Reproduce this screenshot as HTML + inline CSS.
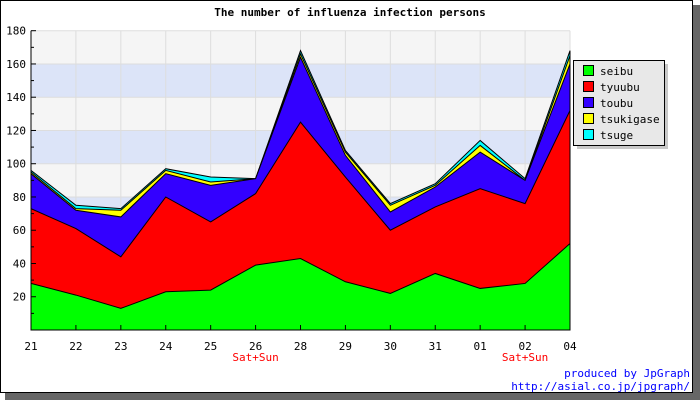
<!DOCTYPE html>
<html><head><meta charset="utf-8"><style>
body{margin:0;background:#fff}
svg text{font-family:"DejaVu Sans Mono","Liberation Mono",monospace}
</style></head><body>
<svg width="700" height="400" xmlns="http://www.w3.org/2000/svg">
<rect x="5" y="5" width="695" height="395" fill="#666"/>
<rect x="0.5" y="0.5" width="692" height="392" fill="#fff" stroke="#000"/>
<text x="350" y="16" text-anchor="middle" font-size="11" font-weight="bold">The number of influenza infection persons</text>
<g id="plot"></g>
<g>
<rect x="577" y="64" width="91" height="85" fill="#c8c8c8"/>
<rect x="573.5" y="60.5" width="91" height="85" fill="#e8e8e8" stroke="#000"/>
<g id="legend-items"></g>
</g>
<text x="690" y="377" text-anchor="end" font-size="11" fill="#00f">produced by JpGraph</text>
<text x="690" y="390" text-anchor="end" font-size="11" fill="#00f">http://asial.co.jp/jpgraph/</text>
</svg>
<script>
const categories=["21","22","23","24","25","26","28","29","30","31","01","02","04"];
const weekendLabels=["","","","","","Sat+Sun","","","","","","Sat+Sun",""];
const seriesNames=["seibu","tyuubu","toubu","tsukigase","tsuge"];
const seriesColors=["#00ff00","#ff0000","#3300ff","#ffff00","#00ffff"];
const seibu=[28,21,13,23,24,39,43,29,22,34,25,28,52];
const tyuubu=[45,40,31,57,41,43,82,63,38,40,60,48,80];
const toubu=[21,11,24,14,22,9,39,13,11,12,22,14,28];
const tsukigase=[1,1,4,2,2,0,2,2,4,1,4,0,5];
const tsuge=[1,2,1,1,3,0,2,1,1,1,3,1,3];
const yTicks=[20,40,60,80,100,120,140,160,180];
const yMax=180;
const L=31,R=570,T=30.7,B=330;
const xs=i=>L+(R-L)*i/(categories.length-1);
const ys=v=>B-(B-T)*v/yMax;
const NS="http://www.w3.org/2000/svg";
const plot=document.getElementById('plot');
function mk(tag,attrs,parent){const e=document.createElementNS(NS,tag);for(const k in attrs)e.setAttribute(k,attrs[k]);(parent||plot).appendChild(e);return e;}
// background bands
for(let v=0;v<yMax;v+=20){
 const r=mk('rect',{x:L,y:ys(v+20),width:R-L,height:ys(v)-ys(v+20),fill:(v/20)%2===0?'#f5f5f5':'#dce4f8'});
 
 
}
for(const v of yTicks){const l=mk('line',{x1:L,x2:R,y1:ys(v),y2:ys(v),stroke:'#ddd'});
 
 }
categories.forEach((c,i)=>{const l=mk('line',{x1:xs(i),x2:xs(i),y1:T,y2:B,stroke:'#ddd'});
 
 });
// stacked areas
const series=[seibu,tyuubu,toubu,tsukigase,tsuge];
let base=categories.map(()=>0);
const tops=[];
series.forEach((s,k)=>{const top=base.map((b,i)=>b+s[i]);tops.push({top,base:base.slice()});base=top;});
for(let k=series.length-1;k>=0;k--){
 const top=tops[k].top;
 let d='M'+xs(0)+','+ys(0);
 top.forEach((v,i)=>d+='L'+xs(i)+','+ys(v));
 d+='L'+xs(top.length-1)+','+ys(0)+'Z';
 const p=mk('path',{d,fill:seriesColors[k],stroke:'#000','stroke-width':1});
 
 
}
// axes
const ax=mk('line',{x1:L,x2:L,y1:T,y2:B,stroke:'#000'});


const bx=mk('line',{x1:L,x2:R,y1:B,y2:B,stroke:'#000'});


for(let v=10;v<=yMax;v+=10){const t=mk('line',{x1:L,x2:L+(v%20?3:5),y1:ys(v),y2:ys(v),stroke:'#000'});
 
 }
yTicks.forEach(v=>{const t=mk('text',{x:L-5,y:ys(v)+4,'text-anchor':'end','font-size':11});t.textContent=v;
 
 });
categories.forEach((c,i)=>{
 const tk=mk('line',{x1:xs(i),x2:xs(i),y1:B,y2:B-5,stroke:'#000'});
 
 
 const t=mk('text',{x:xs(i),y:350,'text-anchor':'middle','font-size':11});t.textContent=c;
 
 
 if(weekendLabels[i]){const w=mk('text',{x:xs(i),y:361,'text-anchor':'middle','font-size':11,fill:'#f00','font-family':'"Liberation Sans",sans-serif'});w.textContent=weekendLabels[i];
  
  }
});
// legend
const lg=document.getElementById('legend-items');
seriesNames.forEach((n,k)=>{
 const y=65+k*16;
 const r=mk('rect',{x:583.5,y:y+0.5,width:10,height:10,fill:seriesColors[k],stroke:'#000'},lg);
 
 
 const t=mk('text',{x:600,y:y+10,'font-size':11},lg);t.textContent=n;
 
 
});
</script>
</body></html>
